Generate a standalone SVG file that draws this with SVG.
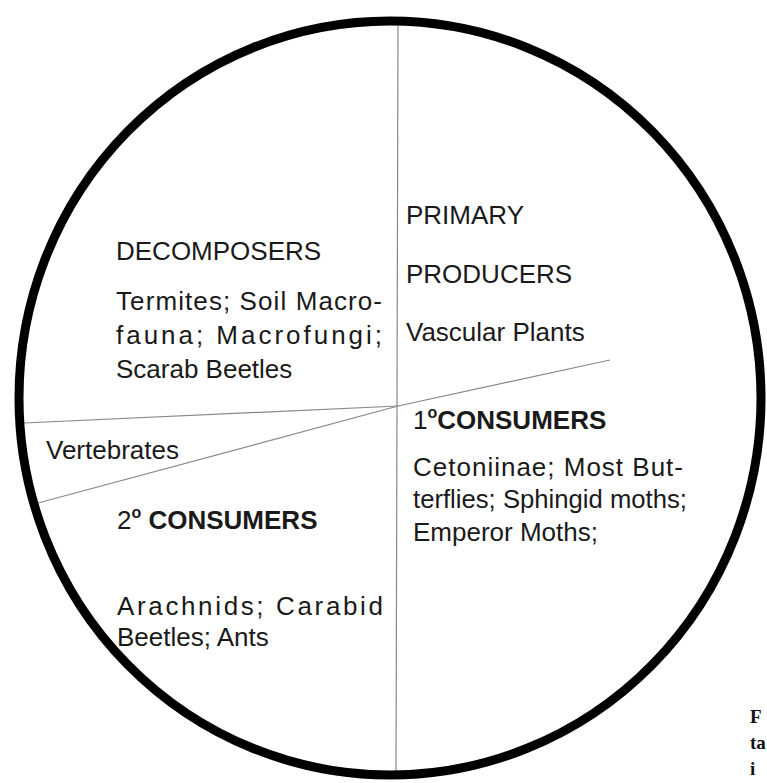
<svg xmlns="http://www.w3.org/2000/svg" width="767" height="783" viewBox="0 0 767 783">
<style>
.t{font-family:"Liberation Sans",Arial,sans-serif;font-size:26px;fill:#1a1a1a}
.b{font-weight:bold}
.sup{font-size:16px;font-weight:bold}
.cap{font-family:"Liberation Serif","Times New Roman",serif;font-size:19px;font-weight:bold;fill:#111}
.div{stroke:#888;stroke-width:1.2;fill:none}
</style>
<rect width="767" height="783" fill="#fff"/>
<g id="connectors">
<line class="div" x1="398" y1="26" x2="396" y2="772"/>
<line class="div" x1="398" y1="406" x2="610" y2="360"/>
<line class="div" x1="398" y1="406" x2="24" y2="423"/>
<line class="div" x1="398" y1="406" x2="38" y2="503"/>
</g>
<g id="circle">
<ellipse cx="390" cy="398" rx="371" ry="377" fill="none" stroke="#000" stroke-width="9"/>
</g>
<g id="primary-producers">
<text class="t" x="406" y="224">PRIMARY</text>
<text class="t" x="406" y="283">PRODUCERS</text>
<text class="t" x="406" y="341">Vascular Plants</text>
</g>
<g id="decomposers">
<text class="t" x="116" y="260">DECOMPOSERS</text>
<text class="t" x="116" y="310" textLength="266">Termites; Soil Macro-</text>
<text class="t" x="116" y="344" textLength="266">fauna; Macrofungi;</text>
<text class="t" x="116" y="378">Scarab Beetles</text>
</g>
<g id="primary-consumers">
<text class="t" x="413" y="429">1<tspan class="sup" dy="-11">o</tspan><tspan class="b" dy="11">CONSUMERS</tspan></text>
<text class="t" x="413" y="476" textLength="270">Cetoniinae; Most But-</text>
<text class="t" x="413" y="508" textLength="274" lengthAdjust="spacingAndGlyphs">terflies; Sphingid moths;</text>
<text class="t" x="413" y="541">Emperor Moths;</text>
</g>
<g id="vertebrates">
<text class="t" x="46" y="459">Vertebrates</text>
</g>
<g id="secondary-consumers">
<text class="t" x="117" y="529">2<tspan class="sup" dy="-11">o</tspan><tspan class="b" dy="11"> CONSUMERS</tspan></text>
<text class="t" x="117" y="615" textLength="266">Arachnids; Carabid</text>
<text class="t" x="117" y="646">Beetles; Ants</text>
</g>
<g id="caption">
<text class="cap" x="750" y="723">F</text>
<text class="cap" x="750" y="749">ta</text>
<text class="cap" x="750" y="775">i</text>
</g>
</svg>
